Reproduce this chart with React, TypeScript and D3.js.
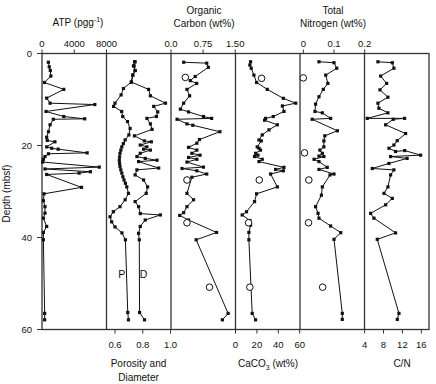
import React from 'react';
import * as d3 from 'd3';

// depth (mbsf), value
const atp: [number, number][] = [
  [1.9, 790], [2.9, 900], [3.7, 1030], [4.9, 1100], [6.3, 300], [7.8, 2700], [9.7, 580],
  [10.8, 1000], [11.1, 6550], [12.6, 500], [13.7, 2700], [14.2, 5300], [14.3, 1400],
  [15.5, 1000], [17.0, 800], [18.2, 580], [18.9, 650], [19.2, 1600], [20.3, 580], [20.6, 1200],
  [20.8, 2000], [21.6, 5600], [21.8, 800], [22.4, 370], [23.0, 170], [23.6, 80], [24.7, 7100],
  [25.1, 370], [25.7, 6000], [26.0, 4600], [26.3, 580], [29.1, 4900], [30.5, 250], [32.0, 170],
  [33.3, 370], [34.7, 370], [35.8, 170], [37.6, 580], [38.9, 170], [40.5, 170], [56.5, 330],
  [57.9, 330],
];

const porosity: [number, number][] = [
  [1.8, 0.741], [2.7, 0.733], [3.7, 0.745], [4.7, 0.728], [6.2, 0.718], [7.6, 0.661],
  [9.0, 0.644], [10.8, 0.600], [11.5, 0.590], [12.6, 0.648], [13.7, 0.656], [14.8, 0.690],
  [16.3, 0.709], [17.7, 0.700], [18.8, 0.673], [19.6, 0.660], [20.3, 0.649], [21.0, 0.642],
  [21.7, 0.636], [22.5, 0.633], [23.2, 0.631], [23.9, 0.633], [24.6, 0.636], [25.3, 0.642],
  [26.0, 0.649], [26.8, 0.657], [27.5, 0.665], [28.2, 0.675], [29.0, 0.685], [30.4, 0.697],
  [31.8, 0.673], [33.3, 0.636], [34.4, 0.588], [35.5, 0.564], [36.6, 0.576], [37.7, 0.600],
  [39.0, 0.650], [40.5, 0.675], [56.3, 0.692], [57.9, 0.697],
];

const diameter: [number, number][] = [
  [1.8, 0.745], [2.7, 0.738], [3.7, 0.745], [4.7, 0.728], [6.2, 0.718], [7.8, 0.842],
  [9.2, 0.855], [10.8, 0.964], [11.5, 0.879], [12.7, 0.908], [13.7, 0.898], [14.1, 0.830],
  [15.3, 0.855], [16.5, 0.867], [17.9, 0.740], [19.0, 0.811], [19.2, 0.862], [19.9, 0.782],
  [20.3, 0.830], [20.8, 0.806], [21.0, 0.855], [21.7, 0.782], [22.4, 0.758], [22.8, 0.818],
  [23.2, 0.903], [23.5, 0.770], [24.9, 0.915], [25.3, 0.758], [26.4, 0.745], [27.5, 0.806],
  [29.0, 0.835], [30.4, 0.825], [32.2, 0.745], [33.3, 0.770], [34.8, 0.782], [35.1, 0.927],
  [36.2, 0.818], [37.6, 0.782], [39.1, 0.770], [40.5, 0.775], [56.3, 0.777], [57.9, 0.813],
];

const organicC: [number, number][] = [
  [1.9, 0.296], [2.1, 0.835], [3.0, 0.873], [5.0, 0.565], [5.9, 0.45], [6.5, 0.6], [7.8, 0.373],
  [9.2, 0.435], [10.8, 0.296], [12.1, 0.219], [12.7, 0.41], [13.7, 0.758], [14.1, 0.95],
  [14.3, 0.142], [15.3, 0.373], [15.6, 0.51], [17.0, 1.142], [18.7, 0.665], [19.5, 0.604],
  [20.4, 0.41], [21.0, 0.604], [21.7, 0.488], [22.1, 0.68], [22.6, 0.41], [23.0, 0.604],
  [23.6, 0.373], [24.7, 0.758], [25.0, 0.258], [25.5, 0.604], [26.2, 0.835], [26.9, 0.488],
  [30.4, 0.373], [31.8, 0.527], [33.3, 0.373], [34.6, 0.296], [35.2, 0.204], [36.2, 0.41],
  [38.9, 1.065], [40.5, 0.588], [56.5, 1.335], [57.9, 1.2],
];
const organicCOpen: [number, number][] = [[5.2, 0.335], [27.5, 0.373], [36.8, 0.373], [50.8, 0.9]];

const caco3: [number, number][] = [
  [1.8, 14.1], [2.5, 13.4], [3.2, 14.7], [4.7, 17.2], [6.3, 19.7], [7.8, 29.7], [9.75, 44.7],
  [10.8, 56.3], [11.4, 43.8], [12.6, 45.3], [13.7, 35.3], [14.1, 28.1], [14.5, 27.2],
  [15.5, 39.1], [16.6, 31.3], [17.7, 25], [18.8, 21.9], [19.0, 24.1], [20.3, 20.3], [20.6, 21.9],
  [21.0, 23.4], [21.7, 18.8], [22.1, 21], [22.4, 17.8], [23.0, 25], [23.5, 21.9], [24.75, 45.3],
  [25.2, 37.5], [25.5, 44.7], [26.2, 32.8], [29.0, 39.1], [30.5, 19.7], [32.2, 17.8],
  [34.4, 10.3], [35.1, 6.25], [36.3, 13.4], [37.3, 14.1], [38.9, 12.5], [40.5, 12.5],
  [56.5, 15.6], [57.9, 18.75],
];
const caco3Open: [number, number][] = [[5.4, 24.4], [27.5, 22.2], [36.8, 12.2], [50.8, 13.4]];

const nitrogen: [number, number][] = [
  [1.8, 0.051], [2.0, 0.1], [3.2, 0.109], [4.7, 0.073], [6.5, 0.08], [7.8, 0.065], [9.4, 0.051],
  [11.0, 0.04], [12.6, 0.038], [12.9, 0.062], [14.1, 0.089], [14.3, 0.029], [16.8, 0.111],
  [17.9, 0.07], [19.0, 0.067], [20.3, 0.067], [21.0, 0.054], [21.7, 0.062], [22.3, 0.051],
  [22.4, 0.067], [23.0, 0.035], [23.5, 0.051], [24.75, 0.078], [25.2, 0.051], [26.2, 0.1],
  [26.4, 0.087], [29.0, 0.062], [30.8, 0.059], [33.3, 0.04], [34.75, 0.048], [35.8, 0.051],
  [37.5, 0.089], [38.95, 0.122], [40.4, 0.1], [56.5, 0.127], [57.8, 0.127],
];
const nitrogenOpen: [number, number][] = [[5.3, 0.0], [21.6, 0.004], [27.5, 0.018], [36.8, 0.017], [50.8, 0.063]];

const cn: [number, number][] = [
  [1.8, 6.82], [2.0, 9.86], [3.2, 10.2], [4.9, 7.39], [6.5, 8.66], [7.9, 7.25], [9.5, 8.94],
  [10.8, 6.82], [11.9, 7.03], [12.9, 8.94], [14.1, 4.56], [14.1, 12.47], [14.3, 10.07],
  [15.5, 8.45], [17.4, 12.68], [18.95, 10.9], [19.9, 10.2], [20.6, 9.15], [21.3, 10.56],
  [21.1, 12.5], [22.1, 15.86], [22.4, 9.5], [22.8, 13.0], [23.9, 9.15], [25.0, 5.62],
  [25.3, 10.2], [26.4, 9.5], [29.0, 8.94], [30.4, 8.1], [31.5, 9.86], [32.9, 8.45],
  [34.75, 5.27], [35.8, 5.98], [39.0, 10.56], [40.4, 6.68], [56.5, 11.27], [57.8, 10.92],
];

const depthTicks = [0, 20, 40, 60];
const atpTicks = [0, 4000, 8000];
const porTicks = [0.6, 0.8, 1.0];
const ocTicks = [0, 0.75, 1.5];
const caTicks = [0, 20, 40, 60];
const nTicks = [0, 0.1, 0.2];
const cnTicks = [4, 8, 12, 16];

const FONT = '"Liberation Sans", Arial, Helvetica, sans-serif';
const INK = '#111';
const FRAME = '#333';

const panelEdges = [42, 106.5, 171, 235.5, 300, 364.5, 429];
const top = 53.5;
const bottom = 329.5;

const y = d3.scaleLinear().domain([0, 60]).range([top, bottom]);

const xAtp = d3.scaleLinear().domain([0, 8000]).range([42, 106.5]);
const xPor = d3.scaleLinear().domain([0.6, 1.0]).range([115, 170.5]);
const xOc = d3.scaleLinear().domain([0, 1.5]).range([171, 235.2]);
const xCa = d3.scaleLinear().domain([0, 60]).range([235.5, 299.7]);
const xN = d3.scaleLinear().domain([0, 0.2]).range([303.3, 364.7]);
const xCn = d3.scaleLinear().domain([4, 16]).range([364.6, 421.3]);

function Series({ data, x }: { data: [number, number][]; x: d3.ScaleLinear<number, number> }) {
  const line = d3
    .line<[number, number]>()
    .x((d) => x(d[1]))
    .y((d) => y(d[0]));
  return (
    <g>
      <path d={line(data) || ''} fill="none" stroke={INK} strokeWidth={1} />
      {data.map((d, i) => (
        <rect key={i} x={x(d[1]) - 1.6} y={y(d[0]) - 1.6} width={3.2} height={3.2} fill={INK} />
      ))}
    </g>
  );
}

function Open({ data, x }: { data: [number, number][]; x: d3.ScaleLinear<number, number> }) {
  return (
    <g>
      {data.map((d, i) => (
        <circle key={i} cx={x(d[1])} cy={y(d[0])} r={3.3} fill="#fff" stroke={INK} strokeWidth={1} />
      ))}
    </g>
  );
}

function TopAxis({ x, ticks, fmt }: { x: d3.ScaleLinear<number, number>; ticks: number[]; fmt: (v: number) => string }) {
  return (
    <g>
      {ticks.map((t) => (
        <g key={t}>
          <line x1={x(t)} x2={x(t)} y1={top} y2={top - 4} stroke={FRAME} strokeWidth={1} />
          <text x={x(t)} y={47} textAnchor="middle" fontSize={9.5}>
            {fmt(t)}
          </text>
        </g>
      ))}
    </g>
  );
}

function BottomAxis({ x, ticks, fmt }: { x: d3.ScaleLinear<number, number>; ticks: number[]; fmt: (v: number) => string }) {
  return (
    <g>
      {ticks.map((t) => (
        <g key={t}>
          <line x1={x(t)} x2={x(t)} y1={bottom} y2={bottom + 4} stroke={FRAME} strokeWidth={1} />
          <text x={x(t)} y={348} textAnchor="middle" fontSize={9.5}>
            {fmt(t)}
          </text>
        </g>
      ))}
    </g>
  );
}

export default function App() {
  const plain = (v: number) => String(v);
  return (
    <svg
      width={436}
      height={384}
      style={{ position: 'absolute', left: 0, top: 0, background: '#fff' }}
      fontFamily={FONT}
      fill={INK}
    >
      <rect width={436} height={384} fill="#fff" />

      {/* frame and panel dividers */}
      <rect
        x={panelEdges[0]}
        y={top}
        width={panelEdges[6] - panelEdges[0]}
        height={bottom - top}
        fill="none"
        stroke={FRAME}
        strokeWidth={1.3}
      />
      {panelEdges.slice(1, 6).map((px) => (
        <line key={px} x1={px} x2={px} y1={top} y2={bottom} stroke={FRAME} strokeWidth={1.3} />
      ))}

      {/* depth axis */}
      {depthTicks.map((t) => (
        <g key={t}>
          <line x1={37} x2={42} y1={y(t)} y2={y(t)} stroke={FRAME} strokeWidth={1} />
          <text x={32} y={y(t) + 3.5} textAnchor="end" fontSize={9.5}>
            {t}
          </text>
        </g>
      ))}
      <text transform={`translate(10,${(top + bottom) / 2 + 2}) rotate(-90)`} textAnchor="middle" fontSize={10}>
        Depth (mbsf)
      </text>

      {/* axes */}
      <TopAxis x={xAtp} ticks={atpTicks} fmt={plain} />
      <TopAxis x={xOc} ticks={ocTicks} fmt={(v) => (v === 0 ? '0.0' : v === 1.5 ? '1.50' : String(v))} />
      <TopAxis x={xN} ticks={nTicks} fmt={plain} />
      <BottomAxis x={xPor} ticks={porTicks} fmt={(v) => v.toFixed(1)} />
      <BottomAxis x={xCa} ticks={caTicks} fmt={plain} />
      <BottomAxis x={xCn} ticks={cnTicks} fmt={plain} />

      {/* titles */}
      <text x={78} y={26} textAnchor="middle" fontSize={10}>
        ATP (pgg
        <tspan dy={-4} fontSize={7}>
          -1
        </tspan>
        <tspan dy={4}>)</tspan>
      </text>
      <text x={204} y={14} textAnchor="middle" fontSize={10}>
        Organic
      </text>
      <text x={204} y={26.5} textAnchor="middle" fontSize={10}>
        Carbon (wt%)
      </text>
      <text x={333} y={14} textAnchor="middle" fontSize={10}>
        Total
      </text>
      <text x={333} y={26.5} textAnchor="middle" fontSize={10}>
        Nitrogen (wt%)
      </text>
      <text x={138.5} y={366.5} textAnchor="middle" fontSize={10}>
        Porosity and
      </text>
      <text x={138.5} y={381} textAnchor="middle" fontSize={10}>
        Diameter
      </text>
      <text x={268} y={367} textAnchor="middle" fontSize={10}>
        CaCO
        <tspan dy={3} fontSize={7}>
          3
        </tspan>
        <tspan dy={-3}> (wt%)</tspan>
      </text>
      <text x={402} y={367} textAnchor="middle" fontSize={10}>
        C/N
      </text>

      {/* data */}
      <Series data={atp} x={xAtp} />
      <Series data={porosity} x={xPor} />
      <Series data={diameter} x={xPor} />
      <Series data={organicC} x={xOc} />
      <Open data={organicCOpen} x={xOc} />
      <Series data={caco3} x={xCa} />
      <Open data={caco3Open} x={xCa} />
      <Series data={nitrogen} x={xN} />
      <Open data={nitrogenOpen} x={xN} />
      <Series data={cn} x={xCn} />

      <text x={121.7} y={278} textAnchor="middle" fontSize={10.5}>
        P
      </text>
      <text x={143.5} y={278} textAnchor="middle" fontSize={10.5}>
        D
      </text>
    </svg>
  );
}
